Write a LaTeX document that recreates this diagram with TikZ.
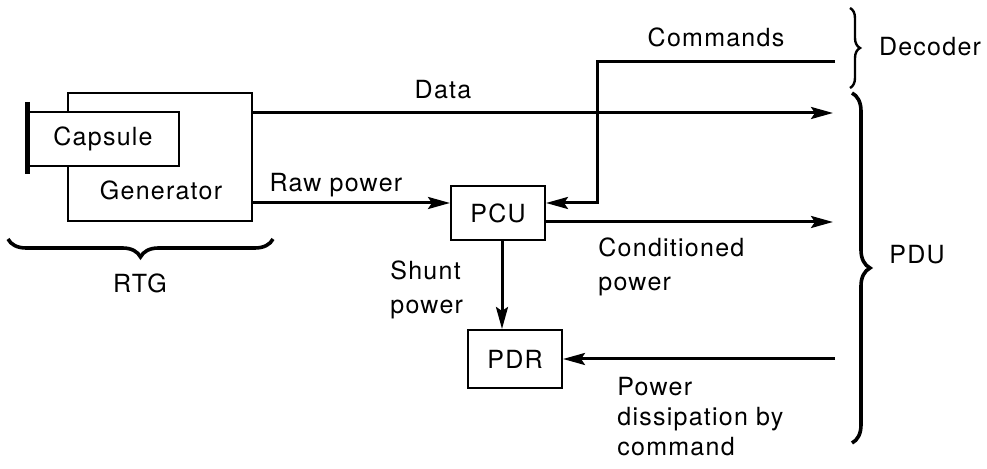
\documentclass[tikz,border=0pt]{standalone}
\usepackage{fontspec}
\setmainfont{TeX Gyre Heros}[LetterSpace=5]
\usetikzlibrary{arrows.meta,positioning,calc,decorations.pathreplacing}

\begin{document}
\begin{tikzpicture}[x=0.5pt,y=-0.5pt,
  font=\fontsize{12.5}{17}\selectfont,
  blk/.style={draw,line width=1pt,inner sep=0pt},
  lbl/.style={inner sep=0pt,align=left,anchor=north west},
  flow/.style={line width=1.5pt,-{Stealth[length=11pt,width=6pt,inset=2pt]}},
  curly/.style={line width=1.8pt,decorate,decoration={brace,amplitude=#1}}]
  \useasboundingbox (0,0) rectangle (987,469);

  % RTG: generator with capsule inside
  \node[blk,minimum width=92pt,minimum height=64pt] (gen) at (160,157) {};
  \node[blk,fill=white,minimum width=76pt,minimum height=27pt] (cap) at (103,139) {Capsule};
  \node (gentxt) at (161,190) {Generator};
  \draw[line width=2.5pt] ($(cap.north west)+(1,-9)$) -- ($(cap.south west)+(1,7)$);

  % conditioning and dissipation units
  \node[blk,minimum width=47pt,minimum height=27pt] (pcu) at (498,213) {PCU};
  \node[blk,minimum width=47pt,minimum height=29pt] (pdr) at (515,359) {PDR};

  % free ends at the decoder / PDU side
  \coordinate (dec) at (835,62);
  \coordinate (tap) at (597,62);
  \coordinate (pdu1) at (833,113);
  \coordinate (pdu2) at (833,222);
  \coordinate (pdu3) at (835,359);

  % connectors
  \draw[flow] (gen.east |- pdu1) -- (pdu1);
  \coordinate (raw) at ($(pcu.west)+(0,-10)$);
  \draw[flow] (gen.east |- raw) -- (raw);
  \draw[flow] (dec) -- (tap) |- ($(pcu.east)+(0,-10)$);
  \draw[flow] (pcu.east |- pdu2) -- (pdu2);
  \draw[flow] ($(pcu.south)+(4,0)$) coordinate (sh) -- (sh |- pdr.north);
  \draw[flow] (pdu3) -- (pdr.east);

  % labels
  \node (lbldata) at (443,90) {Data};
  \node (lblcmd) at (716,37) {Commands};
  \node (lblraw) at (336,185) {Raw power};
  \node[lbl] (lblcond) at (598,237) {Conditioned\\power};
  \node[lbl] (lblshunt) at (390,260) {Shunt\\power};
  \node[lbl,font=\fontsize{12.5}{15}\selectfont] (lbldiss) at (617,377) {Power\\dissipation by\\command};

  % braces
  \draw[curly=5pt,line width=1.2pt] (850,8) -- (850,88);
  \draw[curly=9pt] (852,93) -- (852,443);
  \draw[curly=9pt] (273,239) -- (8,239);
  \node (rtg) at (140,283) {RTG};
  \node (decoder) at (930,47) {Decoder};
  \node (pdu) at (917,255) {PDU};
\end{tikzpicture}
\end{document}
